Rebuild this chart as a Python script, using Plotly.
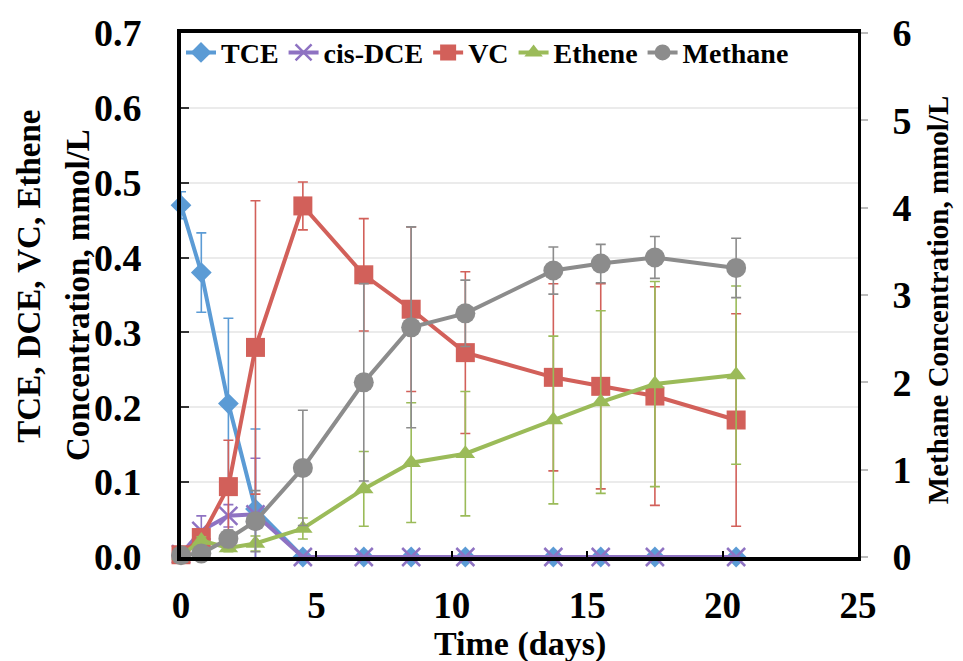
import plotly.graph_objects as go

days = [0, 0.75, 1.75, 2.75, 4.5, 6.75, 8.5, 10.5, 13.75, 15.5, 17.5, 20.5]

tce = [0.47, 0.38, 0.205, 0.064, 0.0, 0.0, 0.0, 0.0, 0.0, 0.0, 0.0, 0.0]
tce_err = [0.018, 0.053, 0.114, 0.107, 0, 0, 0, 0, 0, 0, 0, 0]

dce = [0.004, 0.035, 0.055, 0.057, 0.0, 0.0, 0.0, 0.0, 0.0, 0.0, 0.0, 0.0]
dce_err = [0.008, 0.02, 0.015, 0.075, 0, 0, 0, 0, 0, 0, 0, 0]

vc = [0.003, 0.026, 0.094, 0.28, 0.469, 0.377, 0.331, 0.273, 0.240, 0.228, 0.215, 0.183]
vc_err = [0.004, 0.01, 0.062, 0.196, 0.032, 0.075, 0.11, 0.108, 0.125, 0.137, 0.146, 0.142]

eth = [0.002, 0.022, 0.012, 0.018, 0.038, 0.091, 0.126, 0.138, 0.183, 0.207, 0.231, 0.243]
eth_err = [0.002, 0.005, 0.005, 0.01, 0.014, 0.05, 0.08, 0.083, 0.112, 0.122, 0.137, 0.119]

meth = [0.02, 0.04, 0.21, 0.41, 1.02, 2.0, 2.63, 2.79, 3.28, 3.36, 3.43, 3.31]
meth_err = [0.02, 0.05, 0.1, 0.35, 0.66, 1.13, 1.15, 0.38, 0.27, 0.22, 0.24, 0.34]

x_title = "Time (days)"
y_title_1 = "TCE, DCE, VC, Ethene"
y_title_2 = "Concentration, mmol/L"
y2_title = "Methane Concentration, mmol/L"

FONT = "Liberation Serif"

fig = go.Figure()

def add(name, y, err, color, symbol, size, yaxis="y"):
    fig.add_trace(go.Scatter(
        x=days, y=y, name=name, mode="lines+markers", yaxis=yaxis,
        line=dict(color=color, width=4),
        marker=dict(symbol=symbol, size=size, color=color,
                    line=dict(width=0, color=color)),
        error_y=dict(type="data", array=err, visible=True,
                     color=color, thickness=1.6, width=5),
        cliponaxis=False,
    ))

add("TCE", tce, tce_err, "#5B9BD5", "diamond", 16)
add("cis-DCE", dce, dce_err, "#8E72C2", "x-thin-open", 18)
fig.data[-1].marker.line.width = 2.5
fig.data[-1].marker.line.color = "#8E72C2"
add("VC", vc, vc_err, "#D2605A", "square", 19)
add("Ethene", eth, eth_err, "#9BBB59", "triangle-up", 17)
add("Methane", meth, meth_err, "#8C8C8C", "circle", 20, yaxis="y2")

title_font = dict(family=FONT, size=33, color="black", weight="bold")

fig.update_layout(
    width=963, height=661,
    margin=dict(l=181, r=105, t=20, b=104),
    paper_bgcolor="white", plot_bgcolor="white",
    font=dict(family=FONT, color="black"),
    showlegend=True,
    legend=dict(orientation="h", x=0.0, y=1.01, xanchor="left", yanchor="top",
                font=dict(family=FONT, size=28, color="black", weight="bold"),
                bgcolor="rgba(0,0,0,0)", tracegroupgap=0),
    xaxis=dict(range=[0, 25], dtick=5, tick0=0, showgrid=False, zeroline=False,
               showline=True, linecolor="black", linewidth=4, mirror=True,
               ticks="inside", ticklen=6, tickcolor="black", tickwidth=1.5,
               ticklabelstandoff=13, ticklabeloverflow="allow",
               tickfont=dict(family=FONT, size=37, weight="bold")),
    yaxis=dict(range=[0, 0.7], dtick=0.1, tickformat=".1f", showgrid=True,
               gridcolor="#EBEBEB", gridwidth=2, zeroline=False,
               showline=True, linecolor="black", linewidth=4,
               ticks="inside", ticklen=8, tickcolor="#333", tickwidth=1.5,
               ticklabelstandoff=28, ticklabeloverflow="allow",
               tickfont=dict(family=FONT, size=38, weight="bold")),
    yaxis2=dict(range=[0, 6], dtick=1, overlaying="y", side="right",
                showgrid=False, zeroline=False, showline=True,
                linecolor="black", linewidth=3,
                ticks="outside", ticklen=7, tickcolor="#BBBBBB", tickwidth=1.5,
                ticklabelstandoff=17, ticklabeloverflow="allow",
                tickfont=dict(family=FONT, size=38, weight="bold")),
    annotations=[
        dict(text=x_title, xref="paper", yref="paper", x=0.5, y=-0.166,
             xanchor="center", yanchor="middle", showarrow=False,
             font=dict(family=FONT, size=34, color="black", weight="bold")),
        dict(text=y_title_1, xref="paper", yref="paper", x=-0.2237,
             y=0.536, xanchor="center", yanchor="middle", textangle=-90,
             showarrow=False, font=title_font),
        dict(text=y_title_2, xref="paper", yref="paper", x=-0.1521,
             y=0.5, xanchor="center", yanchor="middle", textangle=-90,
             showarrow=False, font=title_font),
        dict(text=y2_title, xref="paper", yref="paper", x=1.118,
             y=0.49, xanchor="center", yanchor="middle", textangle=-90,
             showarrow=False, font=dict(family=FONT, size=29, color="black", weight="bold")),
    ],
)

fig.write_html("out.html")
